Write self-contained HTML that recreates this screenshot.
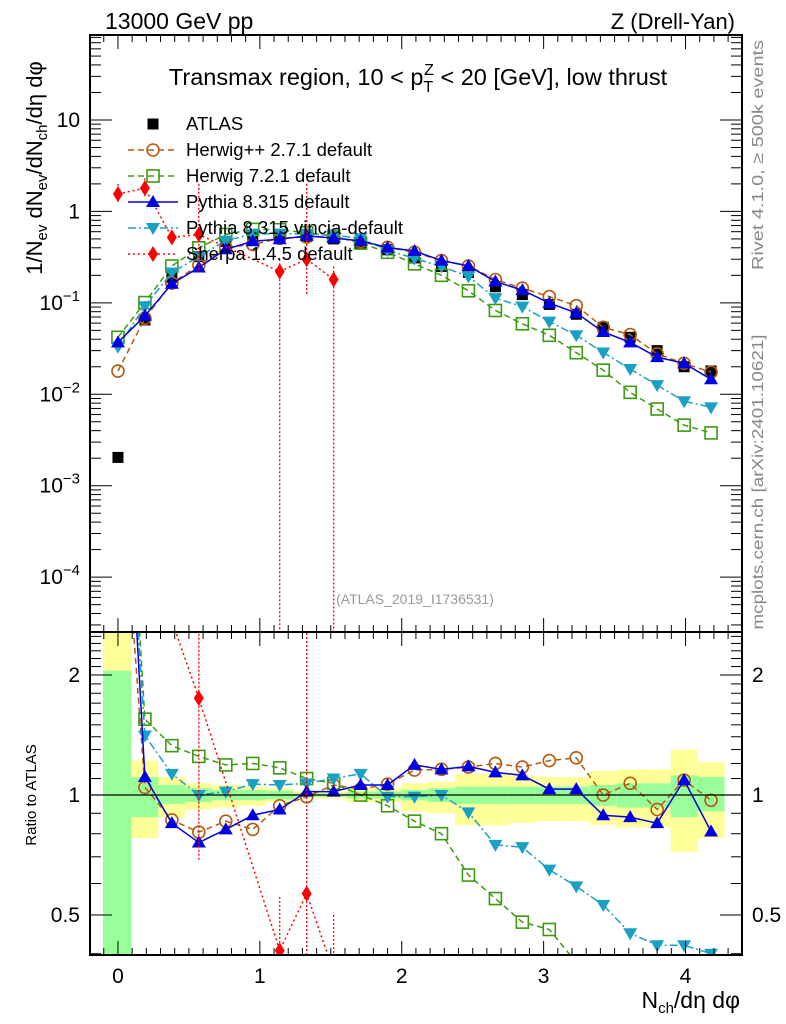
<!DOCTYPE html>
<html><head><meta charset="utf-8"><style>
html,body{margin:0;padding:0;background:#fff;overflow:hidden;width:786px;height:1024px;}
svg{display:block;position:absolute;left:0;top:0;font-family:"Liberation Sans",sans-serif;}
</style></head><body>
<svg id="chart" width="786" height="1024" viewBox="0 0 786 1024" xmlns="http://www.w3.org/2000/svg">
<defs>
<clipPath id="clipMain"><rect x="90" y="35" width="652" height="597"/></clipPath>
<clipPath id="clipRatio"><rect x="90" y="632" width="652" height="323"/></clipPath>
</defs>
<g id="bands" clip-path="url(#clipRatio)"></g>
<g id="ratioSeries" clip-path="url(#clipRatio)"></g>
<g id="mainSeries" clip-path="url(#clipMain)"></g>
<g id="axes"></g>
<text x="105" y="29" font-size="23">13000 GeV pp</text>
<text x="735" y="29" font-size="22" text-anchor="end">Z (Drell-Yan)</text>
<text x="418" y="85" font-size="23.5" text-anchor="middle">Transmax region, 10 &lt; p<tspan font-size="16" dy="7">T</tspan><tspan font-size="16" dx="-9" dy="-17">Z</tspan><tspan dy="10"> &lt; 20 [GeV], low thrust</tspan></text>
<text x="415" y="604" font-size="14" fill="#999" text-anchor="middle">(ATLAS_2019_I1736531)</text>
<text transform="translate(763,155) rotate(-90)" font-size="16" fill="#888" text-anchor="middle" textLength="230" lengthAdjust="spacingAndGlyphs">Rivet 4.1.0, ≥ 500k events</text>
<text transform="translate(763,482) rotate(-90)" font-size="16" fill="#888" text-anchor="middle" textLength="295" lengthAdjust="spacingAndGlyphs">mcplots.cern.ch [arXiv:2401.10621]</text>
<text transform="translate(42,168) rotate(-90)" font-size="22" text-anchor="middle">1/N<tspan font-size="15" dy="5">ev</tspan><tspan dy="-5"> dN</tspan><tspan font-size="15" dy="5">ev</tspan><tspan dy="-5">/dN</tspan><tspan font-size="15" dy="5">ch</tspan><tspan dy="-5">/dη dφ</tspan></text>
<text transform="translate(36,795) rotate(-90)" font-size="15" text-anchor="middle">Ratio to ATLAS</text>
<text x="740" y="1008" font-size="23" text-anchor="end">N<tspan font-size="15" dy="5">ch</tspan><tspan dy="-5">/dη dφ</tspan></text>
<g id="legend"></g>
</svg>
<script>
const xVals = [0,0.19,0.38,0.57,0.76,0.95,1.14,1.33,1.52,1.71,1.9,2.09,2.28,2.47,2.66,2.85,3.04,3.23,3.42,3.61,3.8,3.99,4.18];
const atlas = [0.00204,0.065,0.19,0.32,0.47,0.53,0.54,0.53,0.50,0.45,0.38,0.31,0.25,0.215,0.15,0.123,0.096,0.075,0.054,0.042,0.030,0.020,0.018];
const herwigppRatio = [8.8,1.045,0.866,0.807,0.86,0.82,0.94,0.99,1.06,1.035,1.065,1.155,1.16,1.175,1.20,1.175,1.22,1.24,1.0,1.07,0.92,1.09,0.97];
const herwig7Ratio = [20.6,1.55,1.33,1.25,1.19,1.20,1.17,1.10,1.07,1.0,0.94,0.86,0.80,0.63,0.55,0.48,0.46,0.38,0.34,0.25,0.23,0.23,0.21];
const pythiaRatio = [18.1,1.11,0.85,0.76,0.82,0.89,0.92,1.02,1.02,1.06,1.06,1.19,1.16,1.18,1.14,1.12,1.035,1.035,0.89,0.88,0.85,1.09,0.81];
const vinciaRatio = [16.2,1.41,1.13,1.0,1.02,1.065,1.06,1.07,1.10,1.13,0.99,0.99,1.0,0.905,0.75,0.74,0.65,0.59,0.53,0.45,0.42,0.42,0.40];
const sherpaVals = [1.55,1.8,0.52,0.56,null,null,0.22,0.30,0.18];
const sherpaErrLo = [1.2,1.4,0.45,0.22,null,null,1e-6,0.12,1e-6];
const sherpaErrHi = [2.0,2.3,0.6,2.0,null,null,0.30,2.0,0.25];
const bandYellowHi = [5,1.22,1.11,1.07,1.06,1.05,1.04,1.02,1.02,1.04,1.04,1.07,1.08,1.13,1.13,1.12,1.11,1.11,1.15,1.16,1.16,1.30,1.21];
const bandYellowLo = [0.1,0.78,0.88,0.92,0.93,0.94,0.96,0.98,0.98,0.96,0.96,0.91,0.90,0.84,0.84,0.85,0.86,0.86,0.84,0.83,0.83,0.72,0.78];
const bandGreenHi = [2.05,1.11,1.06,1.04,1.03,1.03,1.025,1.01,1.01,1.02,1.02,1.03,1.04,1.05,1.05,1.05,1.05,1.05,1.06,1.07,1.07,1.12,1.11];
const bandGreenLo = [0.1,0.88,0.95,0.96,0.97,0.97,0.975,0.99,0.99,0.98,0.98,0.97,0.96,0.95,0.95,0.95,0.95,0.95,0.94,0.93,0.93,0.88,0.91];
const xTickLabels = ["0","1","2","3","4"];
const mainTickExp = [-4,-3,-2,-1,0,1];
const ratioTickVals = [0.5,1,2];

const NS="http://www.w3.org/2000/svg";
const X0=90,X1=742,XMIN=-0.197,XMAX=4.398;
const sx=v=>X0+(v-XMIN)/(XMAX-XMIN)*(X1-X0);
const MT=35,MB=632,LMAX=Math.log10(85),LMIN=-4.6;
const sy=v=>MT+(LMAX-Math.log10(v))/(LMAX-LMIN)*(MB-MT);
const RT=632,RB=955,RMAX=Math.log10(2.564),RMIN=Math.log10(0.397);
const sr=v=>RT+(RMAX-Math.log10(v))/(RMAX-RMIN)*(RB-RT);
function mk(tag,attrs,parent){const e=document.createElementNS(NS,tag);for(const k in attrs)e.setAttribute(k,attrs[k]);parent.appendChild(e);return e;}
const axes=document.getElementById('axes');
const mainG=document.getElementById('mainSeries');
const ratioG=document.getElementById('ratioSeries');
const bandG=document.getElementById('bands');

for(let i=0;i<xVals.length;i++){
  const xl=sx(i===0?-0.105:xVals[i]-0.095), xr=sx(xVals[i]+0.095);
  const y=mk('rect',{x:xl,y:sr(bandYellowHi[i]),width:xr-xl,height:sr(bandYellowLo[i])-sr(bandYellowHi[i]),fill:'#ffff99'},bandG);
  
  
  const g=mk('rect',{x:xl,y:sr(bandGreenHi[i]),width:xr-xl,height:sr(bandGreenLo[i])-sr(bandGreenHi[i]),fill:'#99ff99'},bandG);
  
  
}

function marker(type,cx,cy,color,parent,name){
  let e;
  if(type==='sq') e=mk('rect',{x:cx-5.5,y:cy-5.5,width:11,height:11,fill:color},parent);
  else if(type==='osq') e=mk('rect',{x:cx-6,y:cy-6,width:12,height:12,fill:'none',stroke:color,'stroke-width':1.6},parent);
  else if(type==='oc') e=mk('circle',{cx:cx,cy:cy,r:6,fill:'none',stroke:color,'stroke-width':1.6},parent);
  else if(type==='tu') e=mk('path',{d:`M${cx},${cy-7}L${cx+7},${cy+5}L${cx-7},${cy+5}Z`,fill:color},parent);
  else if(type==='td') e=mk('path',{d:`M${cx},${cy+7}L${cx+7},${cy-5}L${cx-7},${cy-5}Z`,fill:color},parent);
  else e=mk('path',{d:`M${cx},${cy-8}L${cx+5},${cy}L${cx},${cy+8}L${cx-5},${cy}Z`,fill:color},parent);
  
  
}
xVals.forEach((x,i)=>marker('sq',sx(x),sy(atlas[i]),'#000',mainG,'atlas-point'));
const series=[
 {name:'herwigpp',ratio:herwigppRatio,color:'#b35a10',dash:'6,4',m:'oc'},
 {name:'herwig7',ratio:herwig7Ratio,color:'#3c9a10',dash:'6,4',m:'osq'},
 {name:'vincia',ratio:vinciaRatio,color:'#1aa0c4',dash:'8,3,2,3',m:'td'},
 {name:'pythia',ratio:pythiaRatio,color:'#0000e6',dash:'',m:'tu'}
];
for(const s of series){
  const mp=xVals.map((x,i)=>[sx(x),sy(atlas[i]*s.ratio[i])]);
  const l=mk('polyline',{points:mp.map(p=>p.join(',')).join(' '),fill:'none',stroke:s.color,'stroke-width':1.5,'stroke-dasharray':s.dash},mainG);
  
  
  mp.forEach(p=>marker(s.m,p[0],p[1],s.color,mainG,s.name+'-point'));
  const rp=xVals.map((x,i)=>[sx(x),sr(s.ratio[i])]);
  const rl=mk('polyline',{points:rp.map(p=>p.join(',')).join(' '),fill:'none',stroke:s.color,'stroke-width':1.5,'stroke-dasharray':s.dash},ratioG);
  
  
  rp.forEach(p=>marker(s.m,p[0],p[1],s.color,ratioG,s.name+'-ratio-point'));
}
const ref=mk('line',{x1:X0,x2:X1,y1:sr(1),y2:sr(1),stroke:'#000','stroke-width':1.2},ratioG);


const red='#ff0000';
const sp=[],srp=[];
sherpaVals.forEach((v,i)=>{if(v!==null){sp.push([sx(xVals[i]),sy(v)]);srp.push([sx(xVals[i]),sr(v/atlas[i])]);}});
const sl=mk('polyline',{points:sp.map(p=>p.join(',')).join(' '),fill:'none',stroke:red,'stroke-width':1.5,'stroke-dasharray':'2,3'},mainG);


const srl=mk('polyline',{points:srp.map(p=>p.join(',')).join(' '),fill:'none',stroke:red,'stroke-width':1.5,'stroke-dasharray':'2,3'},ratioG);


sherpaVals.forEach((v,i)=>{
  if(v===null)return;
  const x=sx(xVals[i]);
  const e=mk('line',{x1:x,x2:x,y1:sy(sherpaErrHi[i]),y2:sy(sherpaErrLo[i]),stroke:red,'stroke-width':1.3,'stroke-dasharray':'2,2'},mainG);
  
  
  if(i>=3){
    const er=mk('line',{x1:x,x2:x,y1:sr(sherpaErrHi[i]/atlas[i]),y2:sr(sherpaErrLo[i]/atlas[i]),stroke:red,'stroke-width':1.3,'stroke-dasharray':'2,2'},ratioG);
    
    
  }
  marker('dm',x,sy(v),red,mainG,'sherpa-point');
  marker('dm',x,sr(v/atlas[i]),red,ratioG,'sherpa-ratio-point');
});

[[MT,MB],[RT,RB]].forEach(([t,b])=>{
  const f=mk('rect',{x:X0,y:t,width:X1-X0,height:b-t,fill:'none',stroke:'#000','stroke-width':2},axes);
  
  
});
for(let k=-0.2;k<=4.4001;k+=0.1){
  const v=Math.round(k*10)/10; const x=sx(v); if(x<X0||x>X1)continue;
  const major=Math.abs(v-Math.round(v))<1e-6; const L=major?14:7;
  [[MT,1],[MB,-1],[RT,1],[RB,-1]].forEach(([y,d])=>mk('line',{x1:x,x2:x,y1:y,y2:y+d*L,stroke:'#000','stroke-width':1},axes));
}
xTickLabels.forEach(t=>{
  const tl=mk('text',{x:sx(+t),y:983,'font-size':21,'text-anchor':'middle'},axes);
  tl.textContent=t;
  
  
});
for(let e=-5;e<=1;e++){
  for(let m=1;m<10;m++){
    const v=m*Math.pow(10,e); const y=sy(v); if(y<MT||y>MB)continue;
    const L=m===1?22:11;
    mk('line',{x1:X0,x2:X0+L,y1:y,y2:y,stroke:'#000','stroke-width':1},axes);
    mk('line',{x1:X1,x2:X1-L,y1:y,y2:y,stroke:'#000','stroke-width':1},axes);
  }
}
mainTickExp.forEach(e=>{
  const y=sy(Math.pow(10,e));
  const t=mk('text',{x:80,y:y+7,'font-size':21,'text-anchor':'end'},axes);
  
  
  if(e===0)t.textContent='1';
  else if(e===1)t.textContent='10';
  else{t.textContent='10';const s=mk('tspan',{'font-size':15,dy:-9},t);s.textContent=String(e).replace('-','−');}
});
for(let v=0.4;v<=2.6;v+=0.1){
  const vv=Math.round(v*10)/10; const y=sr(vv); if(y<RT||y>RB)continue;
  const L=(vv===0.5||vv===1||vv===2)?22:11;
  mk('line',{x1:X0,x2:X0+L,y1:y,y2:y,stroke:'#000','stroke-width':1},axes);
  mk('line',{x1:X1,x2:X1-L,y1:y,y2:y,stroke:'#000','stroke-width':1},axes);
}
ratioTickVals.forEach(v=>{
  const y=sr(v);
  const a=mk('text',{x:80,y:y+7,'font-size':21,'text-anchor':'end'},axes);
  a.textContent=String(v);
  
  
  const b=mk('text',{x:752,y:y+7,'font-size':21},axes);
  b.textContent=String(v);
  
  
});
const leg=document.getElementById('legend');
const legItems=[['ATLAS','sq','#000',''],['Herwig++ 2.7.1 default','oc','#b35a10','6,4'],['Herwig 7.2.1 default','osq','#3c9a10','6,4'],['Pythia 8.315 default','tu','#0000e6',''],['Pythia 8.315 vincia-default','td','#1aa0c4','8,3,2,3'],['Sherpa 1.4.5 default','dm','#ff0000','2,3']];
legItems.forEach((it,i)=>{
  const y=124+i*26;
  if(i>0){const l=mk('line',{x1:128,x2:178,y1:y,y2:y,stroke:it[2],'stroke-width':1.5,'stroke-dasharray':it[3]},leg);
    
    }
  marker(it[1],153,y,it[2],leg,'legend-marker');
  const t=mk('text',{x:186,y:y+6,'font-size':18.5},leg);
  t.textContent=it[0];
  
  
});
</script>
</body></html>
